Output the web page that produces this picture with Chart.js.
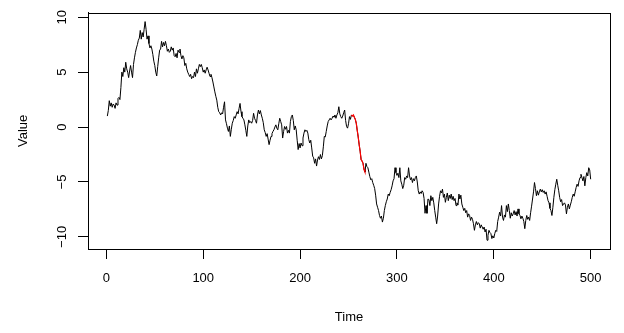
<!DOCTYPE html>
<html>
<head>
<meta charset="utf-8">
<script src="https://cdn.jsdelivr.net/npm/chart.js@4.4.1/dist/chart.umd.min.js"></script>
<style>
body { margin: 0; background: #fff; }
canvas { display: block; }
</style>
</head>
<body>
<canvas id="grafico" width="624" height="333"></canvas>
<script>
// Serie temporal (t = 1..500)
const startTime = 1;
const values = [
  1.0, 1.5, 2.4, 1.9, 2.2, 1.8, 2.1, 2.0, 1.7, 2.2,
  2.0, 2.6, 2.7, 2.5, 3.6, 5.0, 4.6, 5.4, 5.0, 5.9,
  5.3, 5.0, 4.5, 5.1, 5.6, 5.0, 4.5, 5.7, 6.3, 6.8,
  7.2, 7.5, 7.9, 8.1, 8.8, 8.0, 8.6, 8.2, 8.9, 9.6,
  8.9, 8.0, 8.3, 7.6, 7.2, 7.4, 7.1, 6.6, 6.0, 5.6,
  5.0, 4.65, 5.5, 6.3, 7.0, 7.1, 7.8, 7.3, 7.7, 7.4,
  7.8, 7.4, 6.9, 7.1, 6.8, 6.9, 7.3, 7.0, 7.2, 6.5,
  6.4, 6.7, 6.3, 7.0, 6.8, 7.1, 6.5, 6.2, 6.5, 6.3,
  5.6, 5.8, 5.3, 5.0, 4.8, 4.6, 4.8, 4.4, 4.6, 4.5,
  5.0, 4.6, 5.3, 4.9, 5.3, 5.7, 5.5, 5.7, 5.4, 5.0,
  5.2, 4.9, 5.2, 5.45, 5.2, 4.9, 4.6, 4.8, 4.5, 4.1,
  3.65, 3.2, 2.8, 2.45, 1.8, 1.4, 1.3, 1.1, 1.3, 1.2,
  1.8, 2.3, 0.65, 0.3, -0.1, -0.4, 0.1, -0.85, -0.2, 0.35,
  0.6, 0.95, 0.8, 1.1, 1.4, 1.2, 1.7, 2.15, 1.4, 0.95,
  0.8, 0.65, 0.2, -0.3, -0.85, 0.1, 0.65, 0.4, 0.5, 0.35,
  0.6, 1.25, 0.8, 0.6, 0.35, 1.1, 1.55, 1.2, 1.5, 1.1,
  0.8, 0.4, -0.25, -0.5, -0.85, -0.6, -1.1, -1.6, -1.2, -0.85,
  -0.6, -0.4, -0.25, 0.0, 0.2, -0.1, -0.25, 0.3, 0.8, 0.5,
  0.2, -1.0, -0.4, 0.05, -0.2, 0.05, -0.55, -0.3, -0.55, 0.5,
  0.95, 1.1, 0.6, -0.25, 0.1, -0.25, -1.2, -2.05, -1.5, -1.9,
  -1.45, -1.7, -1.0, -0.55, -0.25, -0.4, -0.3, -0.55, -1.15, -1.45,
  -1.2, -1.9, -2.65, -2.8, -3.3, -2.9, -3.55, -3.0, -2.7, -2.95,
  -2.5, -2.9, -2.6, -1.8, -0.85, -0.9, -0.4, 0.1, 0.5, 0.65,
  0.8, 0.65, 0.8, 1.0, 0.9, 1.1, 0.8, 1.1, 1.3, 1.85,
  1.2, 0.95, 0.8, 1.0, 1.3, 1.55, 0.6, 0.05, -0.1, 0.3,
  0.95, 0.7, 1.1, 1.0, 1.1, 0.9, 0.7, 0.35, -0.3, -0.9,
  -1.6, -2.2, -2.95, -3.1, -3.3, -3.85, -4.1, -3.3, -3.6, -3.7,
  -4.1, -4.5, -4.8, -4.7, -5.05, -5.3, -5.6, -6.2, -7.0, -7.3,
  -7.6, -8.05, -8.3, -8.1, -8.65, -8.3, -7.6, -7.15, -6.8, -6.55,
  -6.1, -6.25, -5.95, -5.7, -5.35, -4.9, -4.7, -3.7, -4.15, -4.4,
  -4.2, -4.6, -3.7, -4.9, -5.2, -5.6, -5.3, -4.6, -4.75, -4.45,
  -4.6, -3.7, -4.45, -4.8, -4.6, -5.05, -4.7, -4.9, -4.6, -4.45,
  -5.0, -5.8, -6.1, -5.9, -6.05, -5.8, -5.95, -6.5, -7.85, -7.15,
  -7.85, -6.55, -6.6, -7.15, -6.25, -6.7, -6.4, -6.9, -7.6, -8.2,
  -8.8, -8.1, -7.0, -6.3, -5.8, -6.0, -5.65, -6.4, -6.1, -6.85,
  -6.4, -6.0, -6.7, -6.2, -6.5, -6.1, -6.6, -6.3, -6.7, -6.5,
  -7.15, -6.9, -7.1, -6.1, -6.55, -6.2, -7.0, -7.3, -7.6, -7.4,
  -7.8, -7.6, -8.2, -7.9, -8.05, -8.5, -8.2, -8.4, -8.8, -9.4,
  -8.9, -8.6, -8.9, -8.7, -8.8, -9.2, -8.9, -9.1, -9.3, -9.1,
  -9.55, -9.3, -10.3, -9.85, -9.4, -9.6, -9.7, -10.15, -9.9, -10.1,
  -9.7, -9.4, -9.5, -8.6, -8.2, -7.75, -8.1, -7.15, -8.2, -8.5,
  -8.0, -8.2, -7.15, -7.7, -7.0, -7.6, -8.3, -7.8, -8.1, -7.9,
  -7.6, -8.0, -7.7, -8.1, -7.45, -7.9, -8.05, -8.35, -8.1, -8.3,
  -8.6, -9.25, -8.5, -8.05, -8.4, -8.2, -8.5, -7.8, -7.2, -6.55,
  -5.9, -5.05, -5.6, -6.25, -5.8, -6.2, -5.9, -5.65, -5.9, -5.7,
  -5.95, -5.8, -6.1, -5.9, -6.3, -6.7, -6.9, -7.4, -7.6, -8.05,
  -7.3, -6.4, -5.7, -5.2, -4.75, -5.3, -5.8, -6.4, -6.8, -6.6,
  -7.15, -7.0, -6.9, -7.1, -7.9, -7.3, -7.0, -7.45, -7.1, -6.8,
  -6.4, -6.1, -6.3, -5.9, -5.5, -5.2, -5.4, -4.9, -4.6, -4.3,
  -4.6, -4.9, -4.5, -5.35, -4.6, -4.15, -4.45, -3.7, -3.9, -4.75
];

// Trecho destacado em vermelho
const highlightStart = 253;
const highlightEnd = 267;

// Ticks e limites dos eixos
const xTicks = [0, 100, 200, 300, 400, 500];
const yTicks = [-10, -5, 0, 5, 10];
const xLimits = [-18.96, 519.96];
const yLimits = [-11.1, 10.4];

const pontos = values.map((v, i) => ({ x: startTime + i, y: v }));
const destaque = pontos.filter(p => p.x >= highlightStart && p.x <= highlightEnd);

// Formata como o R (sinal de menos verdadeiro)
function formatar(v) {
    return String(v).replace('-', '\u2212');
}

// Caixa em volta da area do grafico
const caixa = {
    id: 'caixa',
    afterDraw(chart) {
        const { ctx, chartArea: a } = chart;
        ctx.save();
        ctx.strokeStyle = '#000';
        ctx.lineWidth = 1;
        ctx.strokeRect(Math.round(a.left) + 0.5, Math.round(a.top) + 0.5,
            Math.round(a.right - a.left), Math.round(a.bottom - a.top));
        ctx.restore();
    }
};

Chart.defaults.font.family = '"Liberation Sans", Arial, sans-serif';
Chart.defaults.font.size = 13;
Chart.defaults.color = '#000';

const ctx = document.getElementById('grafico').getContext('2d');
new Chart(ctx, {
    type: 'line',
    data: {
        datasets: [{
            data: pontos,
            borderColor: '#000',
            borderWidth: 1,
            pointRadius: 0,
            tension: 0,
            order: 1
        }, {
            // desenhado por cima da serie preta
            data: destaque,
            borderColor: '#ff0000',
            borderWidth: 1.2,
            pointRadius: 0,
            tension: 0,
            order: 0
        }]
    },
    options: {
        responsive: false,
        animation: false,
        events: [],
        layout: { padding: { top: 10, right: 14, left: 0, bottom: 0 } },
        plugins: {
            legend: { display: false },
            tooltip: { enabled: false }
        },
        scales: {
            x: {
                type: 'linear',
                min: xLimits[0],
                max: xLimits[1],
                afterBuildTicks: s => { s.ticks = xTicks.map(v => ({ value: v })); },
                afterFit: s => { s.height = 84; },
                grid: { drawOnChartArea: false, tickLength: 10, color: '#000', tickColor: '#000' },
                border: { display: true, color: '#000' },
                ticks: { padding: 12, minRotation: 0, maxRotation: 0, autoSkip: false, callback: formatar },
                title: { display: true, text: 'Time', padding: { top: 0, bottom: 8 } }
            },
            y: {
                type: 'linear',
                min: yLimits[0],
                max: yLimits[1],
                afterBuildTicks: s => { s.ticks = yTicks.map(v => ({ value: v })); },
                afterFit: s => { s.width = 88; },
                grid: { drawOnChartArea: false, tickLength: 10, color: '#000', tickColor: '#000' },
                border: { display: true, color: '#000' },
                ticks: { padding: 5, minRotation: 90, maxRotation: 90, crossAlign: 'center', autoSkip: false, callback: formatar },
                title: { display: true, text: 'Value', padding: { top: 16, bottom: 0 } }
            }
        }
    },
    plugins: [caixa]
});
</script>
</body>
</html>
